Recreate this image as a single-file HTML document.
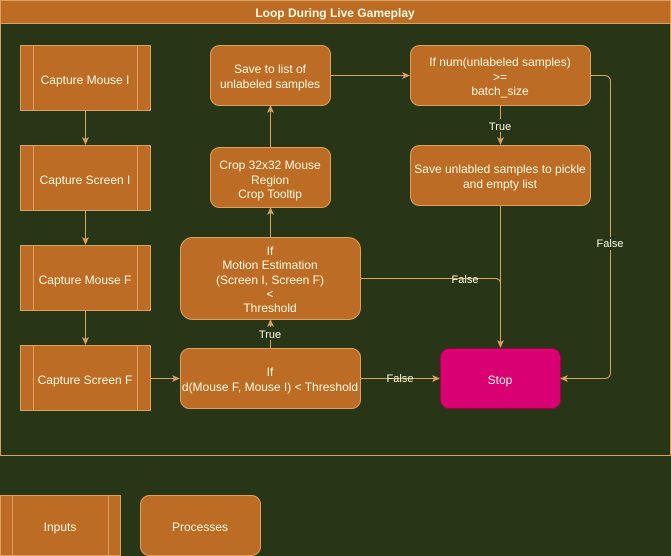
<!DOCTYPE html>
<html><head><meta charset="utf-8"><style>
html,body{margin:0;padding:0;background:#283618;}
svg{display:block;}
text{font-family:"Liberation Sans",sans-serif;font-size:12px;fill:#FEFAE0;text-anchor:middle;}
.b{fill:#BC6C25;stroke:#DDA15E;stroke-width:1;}
.l{stroke:#DDA15E;stroke-width:1;fill:none;}
.lb{font-size:11px;}
</style></head><body>
<svg width="671" height="556" viewBox="0 0 671 556" xmlns="http://www.w3.org/2000/svg">
<defs><marker id="a" markerWidth="8" markerHeight="8" refX="7" refY="4" orient="auto" markerUnits="userSpaceOnUse"><path d="M0,0.5 L8,4 L0,7.5 L2,4 Z" fill="#DDA15E"/></marker></defs>
<rect x="0" y="0" width="671" height="556" fill="#283618"/>
<rect x="0.5" y="0.5" width="670" height="455" fill="#283618" stroke="#DDA15E"/>
<rect x="0.5" y="0.5" width="670" height="23" fill="#BC6C25" stroke="#DDA15E"/>
<text x="335" y="17" style="font-weight:bold">Loop During Live Gameplay</text>

<!-- inputs -->
<g>
<rect class="b" x="20.5" y="45.5" width="130" height="65"/><line class="l" x1="33.5" y1="45.5" x2="33.5" y2="110.5"/><line class="l" x1="137.5" y1="45.5" x2="137.5" y2="110.5"/><text x="85" y="84">Capture Mouse I</text>
<rect class="b" x="20.5" y="145.5" width="130" height="65"/><line class="l" x1="33.5" y1="145.5" x2="33.5" y2="210.5"/><line class="l" x1="137.5" y1="145.5" x2="137.5" y2="210.5"/><text x="85" y="184">Capture Screen I</text>
<rect class="b" x="20.5" y="245.5" width="130" height="65"/><line class="l" x1="33.5" y1="245.5" x2="33.5" y2="310.5"/><line class="l" x1="137.5" y1="245.5" x2="137.5" y2="310.5"/><text x="85" y="284">Capture Mouse F</text>
<rect class="b" x="20.5" y="345.5" width="130" height="65"/><line class="l" x1="33.5" y1="345.5" x2="33.5" y2="410.5"/><line class="l" x1="137.5" y1="345.5" x2="137.5" y2="410.5"/><text x="85" y="384">Capture Screen F</text>
</g>
<line class="l" x1="85.5" y1="110" x2="85.5" y2="144" marker-end="url(#a)"/>
<line class="l" x1="85.5" y1="210" x2="85.5" y2="244" marker-end="url(#a)"/>
<line class="l" x1="85.5" y1="310" x2="85.5" y2="344" marker-end="url(#a)"/>
<line class="l" x1="150" y1="378.5" x2="179" y2="378.5" marker-end="url(#a)"/>

<!-- processes -->
<rect class="b" x="210.5" y="45.5" width="120" height="60" rx="9"/>
<text x="270" y="73">Save to list of</text><text x="270" y="88">unlabeled samples</text>
<rect class="b" x="210.5" y="147.5" width="120" height="60" rx="9"/>
<text x="270" y="169">Crop 32x32 Mouse</text><text x="270" y="184">Region</text><text x="270" y="198">Crop Tooltip</text>
<rect class="b" x="180.5" y="237.5" width="180" height="82" rx="12"/>
<text x="270" y="255">If</text><text x="270" y="269">Motion Estimation</text><text x="270" y="284">(Screen I, Screen F)</text><text x="270" y="298">&lt;</text><text x="270" y="312">Threshold</text>
<rect class="b" x="180.5" y="348.5" width="180" height="60" rx="9"/>
<text x="270" y="376">If</text><text x="270" y="391">d(Mouse F, Mouse I) &lt; Threshold</text>
<rect class="b" x="410.5" y="45.5" width="180" height="60" rx="9"/>
<text x="500" y="66">If num(unlabeled samples)</text><text x="500" y="81">&gt;=</text><text x="500" y="95">batch_size</text>
<rect class="b" x="410.5" y="145.5" width="180" height="60" rx="9"/>
<text x="500" y="173">Save unlabled samples to pickle</text><text x="500" y="188">and empty list</text>
<rect x="440.5" y="348.5" width="120" height="60" rx="9" fill="#D80073" stroke="#A50040"/>
<text x="500" y="384">Stop</text>

<!-- edges -->
<line class="l" x1="270.5" y1="348" x2="270.5" y2="320" marker-end="url(#a)"/>
<rect x="258" y="327" width="25" height="13" fill="#283618"/><text class="lb" x="270" y="338">True</text>
<line class="l" x1="270.5" y1="237" x2="270.5" y2="208" marker-end="url(#a)"/>
<line class="l" x1="270.5" y1="147" x2="270.5" y2="106" marker-end="url(#a)"/>
<line class="l" x1="330" y1="75.5" x2="409" y2="75.5" marker-end="url(#a)"/>
<line class="l" x1="500.5" y1="105" x2="500.5" y2="144" marker-end="url(#a)"/>
<rect x="488" y="119" width="25" height="13" fill="#283618"/><text class="lb" x="500" y="130">True</text>
<line class="l" x1="500.5" y1="205" x2="500.5" y2="347" marker-end="url(#a)"/>
<path class="l" d="M360,278.5 L495,278.5 Q500.5,278.5 500.5,284"/>
<text class="lb" x="465" y="283">False</text>
<line class="l" x1="360" y1="378.5" x2="439" y2="378.5" marker-end="url(#a)"/>
<text class="lb" x="400" y="382">False</text>
<path class="l" d="M590,75.5 L604,75.5 Q610.5,75.5 610.5,82 L610.5,372 Q610.5,378.5 604,378.5 L561,378.5" marker-end="url(#a)"/>
<rect x="596" y="237" width="29" height="13" fill="#283618"/><text class="lb" x="610" y="247">False</text>

<!-- legend -->
<rect class="b" x="0.5" y="495.5" width="120" height="60"/><line class="l" x1="12.5" y1="495.5" x2="12.5" y2="555.5"/><line class="l" x1="108.5" y1="495.5" x2="108.5" y2="555.5"/>
<text x="60" y="531">Inputs</text>
<rect class="b" x="140.5" y="495.5" width="120" height="60" rx="9"/>
<text x="200" y="531">Processes</text>
</svg>
</body></html>
